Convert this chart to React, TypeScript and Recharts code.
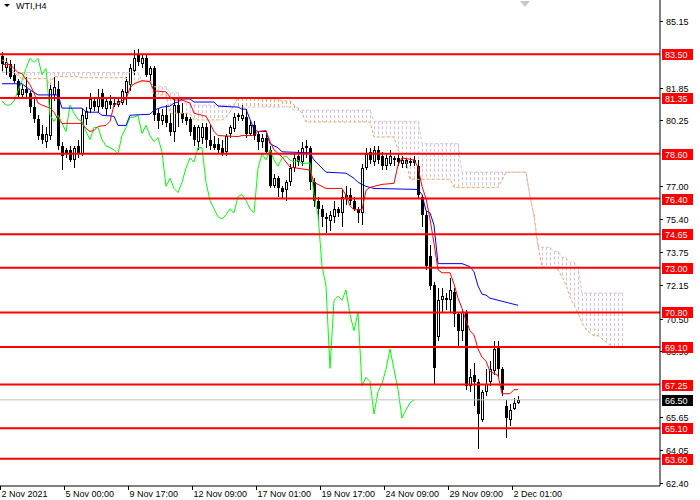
import React from 'react';
import { ComposedChart, Bar, Line, XAxis, YAxis, ReferenceLine } from 'recharts';

// H4 candles, bar 0 is the first one on screen
const opens = [
  83.4, 82.8, 83.0, 82.5, 82.2, 81.5, 81.8, 81.6, 80.9, 80.3,
  79.6, 79.2, 79.5, 81.5, 81.8, 79.0, 78.8, 78.8, 78.3, 79.0,
  78.6, 80.3, 80.8, 81.2, 80.9, 81.6, 80.8, 81.2, 81.1, 81.0,
  81.1, 81.6, 82.0, 82.7, 83.5, 83.0, 83.3, 82.5, 82.8, 80.6,
  80.2, 80.5, 80.1, 79.7, 81.0, 80.6, 80.4, 80.3, 79.9, 79.2,
  79.4, 79.9, 79.3, 79.1, 79.1, 78.9, 78.7, 79.6, 79.8, 80.5,
  80.3, 80.4, 79.6, 80.0, 79.6, 79.2, 79.4, 78.8, 77.0, 77.4,
  76.9, 76.8, 77.2, 77.9, 78.5, 78.2, 79.0, 78.9, 77.2, 76.3,
  75.9, 75.5, 75.3, 75.5, 75.9, 75.7, 76.4, 76.6, 76.3, 75.9,
  75.7, 77.9, 78.7, 78.2, 78.8, 78.5, 78.0, 78.1, 78.4, 78.4,
  78.1, 78.3, 78.25, 78.3, 78.0, 76.5, 75.6, 73.6, 72.15, 69.6,
  71.4, 71.5, 71.4, 71.8, 70.7, 69.9, 70.8, 67.2, 67.7, 67.4,
  65.5, 66.9, 67.4, 67.9, 69.1, 68.0, 66.2, 65.5, 66.05, 66.35,
];
const highs = [
  83.6, 83.3, 83.2, 83.0, 82.3, 82.0, 82.4, 81.7, 81.4, 80.5,
  80.0, 79.9, 82.0, 82.4, 82.2, 79.2, 78.9, 79.0, 79.0, 79.3,
  80.8, 80.9, 81.6, 81.4, 81.8, 81.8, 81.3, 81.5, 81.3, 81.4,
  81.8, 82.4, 83.0, 83.7, 83.75, 83.5, 83.5, 82.9, 82.9, 80.8,
  80.8, 81.0, 80.6, 81.3, 81.3, 81.1, 80.6, 80.4, 80.0, 80.0,
  80.1, 80.1, 80.0, 79.5, 79.4, 79.3, 79.6, 80.0, 80.6, 80.6,
  81.0, 80.8, 80.2, 80.2, 79.7, 79.6, 79.6, 79.0, 77.6, 77.5,
  77.0, 77.3, 78.1, 78.6, 78.8, 79.2, 79.3, 79.0, 77.4, 76.5,
  76.1, 75.7, 75.8, 76.3, 76.0, 76.8, 77.0, 76.9, 76.5, 76.0,
  78.1, 78.9, 78.9, 79.0, 79.0, 78.7, 78.6, 78.8, 78.5, 78.6,
  78.5, 78.4, 78.4, 78.5, 78.3, 76.6, 75.8, 74.1, 72.3, 72.0,
  72.0, 71.75, 72.5, 72.0, 70.8, 70.9, 70.9, 68.0, 68.3, 67.5,
  67.0, 68.0, 68.4, 69.4, 69.4, 68.1, 66.5, 66.3, 66.6, 66.7,
];
const lows = [
  82.7, 82.5, 82.3, 82.1, 81.4, 81.3, 81.4, 80.6, 80.1, 79.3,
  79.1, 78.9, 79.3, 81.2, 78.8, 77.8, 78.4, 78.2, 77.9, 78.4,
  78.5, 80.0, 80.6, 80.7, 80.6, 80.8, 80.5, 80.8, 80.9, 80.9,
  81.0, 81.0, 81.7, 82.5, 82.9, 82.8, 82.4, 82.2, 80.2, 79.8,
  80.0, 79.9, 79.5, 79.2, 79.9, 80.1, 80.0, 79.5, 79.0, 78.8,
  79.1, 78.9, 78.8, 78.8, 78.6, 78.5, 78.5, 79.4, 79.7, 80.2,
  80.2, 79.4, 79.5, 79.3, 78.8, 78.9, 78.6, 76.9, 76.9, 76.5,
  76.4, 76.3, 77.0, 77.7, 78.0, 78.0, 78.4, 76.8, 76.0, 75.3,
  75.0, 74.7, 74.8, 75.2, 75.5, 75.0, 76.1, 76.1, 75.8, 75.2,
  75.1, 77.8, 78.1, 78.0, 78.1, 77.8, 77.8, 78.0, 78.0, 78.0,
  77.9, 77.9, 78.0, 78.0, 76.4, 75.0, 72.9, 71.9, 67.3, 69.4,
  70.8, 70.9, 70.75, 70.1, 69.1, 69.4, 67.0, 66.9, 66.2, 64.1,
  65.4, 66.7, 67.2, 67.7, 67.6, 66.7, 64.6, 65.2, 66.0, 66.3,
];
const closes = [
  83.0, 83.1, 82.4, 82.2, 81.5, 81.8, 81.6, 80.9, 80.3, 79.5,
  79.3, 79.6, 81.8, 81.9, 79.0, 78.5, 78.6, 78.3, 78.9, 78.6,
  80.5, 80.7, 81.3, 80.9, 81.4, 80.9, 81.2, 81.0, 81.0, 81.2,
  81.7, 82.2, 82.8, 83.3, 83.1, 83.3, 82.5, 82.8, 80.5, 80.2,
  80.5, 80.1, 79.7, 81.0, 80.6, 80.3, 80.2, 79.7, 79.3, 79.9,
  79.9, 79.3, 79.0, 78.9, 78.8, 78.6, 79.5, 79.9, 80.4, 80.4,
  80.5, 79.6, 80.0, 79.5, 79.2, 79.4, 78.7, 77.0, 77.4, 76.9,
  76.7, 77.2, 77.9, 78.4, 78.2, 78.9, 78.9, 77.2, 76.3, 75.9,
  75.5, 75.4, 75.6, 75.9, 75.7, 76.5, 76.6, 76.3, 75.9, 75.7,
  77.9, 78.6, 78.3, 78.8, 78.3, 78.0, 78.4, 78.5, 78.3, 78.2,
  78.3, 78.1, 78.15, 78.15, 76.6, 75.6, 73.1, 72.1, 68.05, 71.4,
  71.6, 71.4, 71.9, 70.7, 69.9, 70.8, 67.2, 67.6, 67.4, 65.8,
  66.9, 67.3, 68.0, 69.0, 68.0, 67.0, 65.6, 66.0, 66.35, 66.5,
];

// Ichimoku lines, read at the bars where they turn
const tenkanAt = [
  0, 2, 4, 5, 7, 8, 9, 10, 12, 13, 14, 15, 20, 21, 22, 23, 24, 26, 27, 28,
  29, 31, 32, 33, 35, 37, 38, 41, 42, 43, 45, 47, 48, 51, 52, 53, 54, 59, 60, 63,
  64, 66, 67, 68, 70, 72, 77, 78, 81, 85, 86, 87, 88, 90, 91, 92, 95, 98, 99, 100,
  103, 104, 105, 106, 107, 108, 109, 110, 112, 113, 114, 115, 116, 117, 118, 119, 120, 121, 122, 124,
  125, 127, 128, 129,
];
const tenkanVal = [
  83.0, 83.0, 82.6, 82.55, 82.0, 81.6, 81.1, 81.0, 80.85, 80.65, 80.3, 80.1, 80.1, 79.85, 79.7, 79.75, 79.95, 80.0, 80.2, 81.0,
  81.1, 81.3, 81.85, 82.05, 82.2, 82.15, 81.7, 81.65, 81.4, 81.25, 81.25, 81.1, 80.6, 80.45, 80.1, 79.7, 79.5, 79.45, 79.5, 79.5,
  79.7, 79.75, 79.2, 78.8, 78.45, 77.95, 77.8, 77.2, 76.9, 76.9, 76.55, 76.05, 75.85, 75.85, 76.8, 76.95, 77.1, 77.15, 78.05, 78.4,
  78.3, 77.95, 77.0, 76.4, 75.4, 74.2, 72.9, 72.75, 72.75, 72.2, 71.5, 71.0, 70.4, 69.9, 69.7, 69.0, 68.6, 68.4, 67.9, 67.7,
  66.8, 66.8, 67.0, 67.0,
];
const kijunAt = [
  0, 5, 7, 9, 14, 15, 20, 21, 24, 25, 28, 29, 31, 32, 37, 38, 40, 42, 43, 44,
  45, 47, 48, 53, 54, 59, 60, 61, 62, 63, 64, 66, 67, 69, 70, 77, 78, 79, 81, 86,
  88, 89, 91, 93, 104, 105, 106, 107, 108, 109, 115, 117, 118, 119, 120, 121, 122, 124, 126, 129,
];
const kijunVal = [
  82.05, 82.05, 81.75, 81.5, 81.5, 80.85, 80.85, 80.65, 80.65, 80.5, 80.45, 80.0, 80.0, 80.5, 80.55, 80.75, 80.9, 80.95, 81.1, 81.15,
  81.3, 81.3, 81.15, 81.15, 80.95, 80.9, 80.8, 80.8, 80.3, 79.8, 79.7, 79.7, 79.1, 78.9, 78.7, 78.65, 78.3, 78.1, 77.7, 77.65,
  77.4, 77.2, 77.0, 76.9, 76.85, 76.6, 75.8, 75.7, 75.1, 73.2, 73.2, 73.05, 72.8, 72.1, 71.7, 71.65, 71.5, 71.4, 71.3, 71.15,
];

// Senkou spans as drawn (already 26 bars ahead), one value per bar
const spanA = [
  83.2, 83.2, 82.9, 82.6, 82.45, 82.3, 82.3, 82.3, 82.3, 82.3, 82.3, 82.3, 82.0,
  82.4, 82.4, 82.4, 82.4, 82.4, 82.4, 82.4, 82.35, 82.35, 82.35, 82.35, 82.35, 82.35,
  82.35, 82.35, 82.35, 82.35, 82.35, 82.35, 82.0, 82.0, 82.15, 82.15, 82.15, 82.15, 81.5,
  81.5, 81.5, 81.5, 80.6, 80.6, 80.6, 80.6, 80.6, 80.6, 80.27, 80.27, 80.27, 80.27, 80.27,
  80.27, 80.27, 80.27, 80.4, 80.66, 81.0, 81.35, 81.35, 81.35, 81.35, 81.35, 81.35, 81.3,
  81.3, 81.3, 81.3, 81.3, 81.2, 81.2, 81.2, 81.0, 80.85, 80.6, 80.17, 80.17, 80.17, 80.17,
  80.17, 80.17, 80.17, 80.17, 80.17, 80.17, 80.17, 80.17, 80.17, 80.17, 80.17, 80.17, 80.17,
  79.43, 79.43, 79.43, 79.43, 79.43, 79.43, 78.8, 78.5, 78.3, 77.35, 77.35, 77.35, 77.35,
  77.35, 77.35, 77.35, 77.35, 77.35, 77.35, 77.35, 76.95, 76.95, 76.95, 76.95, 76.95, 76.95,
  76.95, 76.95, 76.95, 76.95, 76.95, 76.95, 77.3, 77.7, 77.7, 77.7, 77.7, 77.7, 77.7,
  76.5, 75.6, 74.1, 73.05, 73.0, 73.0, 73.0, 72.9, 72.55, 72.15, 71.55, 71.15, 70.75,
  70.3, 69.95, 69.8, 69.65, 69.65, 69.5, 69.35, 69.2, 69.1, 69.1, 69.1,
];
const spanB = [
  82.6, 82.6, 82.6, 82.6, 82.6, 82.6, 82.6, 82.6, 82.6, 82.6, 82.6, 82.6, 82.6,
  82.6, 82.6, 82.6, 82.6, 82.6, 82.6, 82.6, 82.6, 82.6, 82.6, 82.6, 82.6, 82.6,
  82.6, 82.6, 82.6, 82.6, 82.6, 82.6, 82.6, 82.6, 82.6, 82.2, 82.2, 82.2, 81.9,
  81.9, 81.9, 81.9, 81.6, 81.6, 81.6, 81.1, 81.1, 81.0, 81.0, 81.0, 81.0, 81.0,
  81.0, 81.0, 81.0, 81.0, 81.0, 81.0, 81.0, 80.9, 80.9, 80.9, 80.9, 80.9, 80.9,
  80.9, 80.9, 80.9, 80.9, 80.9, 80.9, 80.9, 80.9, 80.75, 80.75, 80.75, 80.75, 80.75,
  80.75, 80.75, 80.75, 80.75, 80.75, 80.75, 80.75, 80.75, 80.75, 80.75, 80.75, 80.75, 80.75,
  80.75, 80.75, 80.2, 80.2, 80.2, 80.2, 80.2, 80.2, 80.2, 80.2, 80.2, 80.2, 80.2,
  80.2, 79.1, 79.1, 79.1, 79.1, 79.1, 79.1, 79.1, 79.1, 79.1, 79.1, 77.7, 77.7,
  77.7, 77.7, 77.7, 77.7, 77.7, 77.7, 77.7, 77.7, 77.7, 77.7, 77.7, 77.7, 77.7,
  77.7, 77.7, 76.5, 75.5, 74.0, 74.0, 74.0, 74.0, 73.8, 73.8, 73.5, 73.5, 73.25,
  73.25, 73.05, 71.75, 71.75, 71.75, 71.75, 71.75, 71.75, 71.75, 71.75, 71.75, 71.75, 71.75,
];

const levels = [83.5, 81.35, 78.6, 76.4, 74.65, 73.0, 70.8, 69.1, 67.25, 65.1, 63.6];
const lastPrice = 66.5;
const priceTicks = [85.15, 83.5, 81.85, 80.25, 78.6, 77.0, 75.4, 73.75, 72.15, 70.5, 68.9, 67.25, 65.65, 64.05, 62.4];
const timeBars = [0, 16, 32, 48, 64, 80, 96, 112, 128];
const timeLabels = [
  '2 Nov 2021', '5 Nov 00:00', '9 Nov 17:00', '12 Nov 09:00', '17 Nov 01:00',
  '19 Nov 17:00', '24 Nov 09:00', '29 Nov 09:00', '2 Dec 01:00',
];

const CHIKOU_SHIFT = 26;
const TOTAL = 165; // bars on screen incl. the empty shift on the right
const FONT = '"Liberation Sans", Arial, sans-serif';
const SPAN_A_COLOR = '#f4a460';
const SPAN_B_COLOR = '#d8bfd8';

const rows = Array.from({ length: TOTAL }, (_, i) => {
  const hasBar = i < closes.length;
  const hasCloud = i < spanA.length;
  const t = tenkanAt.indexOf(i);
  const k = kijunAt.indexOf(i);
  return {
    i,
    o: hasBar ? opens[i] : null,
    h: hasBar ? highs[i] : null,
    l: hasBar ? lows[i] : null,
    c: hasBar ? closes[i] : null,
    hl: hasBar ? [lows[i], highs[i]] : null,
    chikou: i + CHIKOU_SHIFT < closes.length ? closes[i + CHIKOU_SHIFT] : null,
    tenkan: t >= 0 ? tenkanVal[t] : null,
    kijun: k >= 0 ? kijunVal[k] : null,
    spanA: hasCloud ? spanA[i] : null,
    spanB: hasCloud ? spanB[i] : null,
    cloud: hasCloud ? [Math.min(spanA[i], spanB[i]), Math.max(spanA[i], spanB[i])] : null,
  };
});

const axisTicks = [
  ...priceTicks.filter((v) => !levels.includes(v)),
  ...levels,
  lastPrice,
];

function Candle(props: any) {
  const { x, y, width, height, payload } = props;
  if (!payload || payload.o == null || !(height > 0)) return null;
  const { o, h, l, c } = payload;
  const k = height / (h - l);
  const py = (v: number) => Math.round(y + (h - v) * k);
  const cx = Math.floor(x + width / 2) + 0.5;
  const top = py(Math.max(o, c));
  const bottom = py(Math.min(o, c));
  const bull = c >= o;
  let body;
  if (bottom - top < 2) {
    body = <line x1={cx - 1.5} x2={cx + 1.5} y1={top + 0.5} y2={top + 0.5} stroke="#000" />;
  } else if (bull) {
    body = <rect x={cx - 1} y={top + 0.5} width={2} height={bottom - top - 1} fill="#fff" stroke="#000" />;
  } else {
    body = <rect x={cx - 1.5} y={top} width={3} height={bottom - top} fill="#000" />;
  }
  return (
    <g>
      <line x1={cx} x2={cx} y1={Math.round(y)} y2={Math.round(y + height)} stroke="#000" />
      {body}
    </g>
  );
}

function CloudHatch(props: any) {
  const { x, y, width, height, payload } = props;
  if (!payload || payload.spanA == null || !(height > 0.5)) return null;
  const cx = Math.floor(x + width / 2) + 0.5;
  const color = payload.spanA >= payload.spanB ? SPAN_A_COLOR : SPAN_B_COLOR;
  return <line x1={cx} x2={cx} y1={y} y2={y + height} stroke={color} strokeDasharray="3 2" />;
}

function TimeTick(props: any) {
  const { x, y, payload } = props;
  const idx = timeBars.indexOf(payload.value);
  if (idx < 0) return <g />;
  const left = Math.round(x - 2) + 0.5;
  return (
    <g>
      <line x1={left} x2={left} y1={y} y2={y + 4} stroke="#000" />
      <text x={left + 1} y={y + 11} fontSize={9} fontFamily={FONT} fill="#000">
        {timeLabels[idx]}
      </text>
    </g>
  );
}

function PriceTick(props: any) {
  const { x, y, payload } = props;
  const v = payload.value;
  const yy = Math.round(y);
  const label = v.toFixed(2);
  if (levels.includes(v) || v === lastPrice) {
    const bg = v === lastPrice ? '#000' : '#ff0000';
    return (
      <g>
        <rect x={x + 2} y={yy - 5} width={31} height={11} fill={bg} />
        <text x={x + 5} y={yy + 3.5} fontSize={9} fontFamily={FONT} fill="#fff">
          {label}
        </text>
      </g>
    );
  }
  return (
    <g>
      <line x1={x} x2={x + 3} y1={yy + 0.5} y2={yy + 0.5} stroke="#000" />
      <text x={x + 6} y={yy + 3.5} fontSize={9} fontFamily={FONT} fill="#000">
        {label}
      </text>
    </g>
  );
}

export default function App() {
  return (
    <div style={{ position: 'absolute', left: 0, top: 0, width: 700, height: 500, background: '#fff' }}>
      <ComposedChart width={700} height={500} data={rows} margin={{ top: 0, right: 0, bottom: 0, left: 0 }}>
        <XAxis
          dataKey="i"
          height={14}
          interval={0}
          tickSize={0}
          tickMargin={0}
          tick={<TimeTick />}
          axisLine={{ stroke: '#000' }}
          tickLine={false}
        />
        <XAxis xAxisId="cloud" dataKey="i" hide />
        <YAxis
          orientation="right"
          type="number"
          width={40}
          domain={[62.26, 86.17]}
          allowDataOverflow
          ticks={axisTicks}
          interval={0}
          tickSize={0}
          tickMargin={0}
          tick={<PriceTick />}
          axisLine={{ stroke: '#000' }}
          tickLine={false}
        />
        <Bar xAxisId="cloud" dataKey="cloud" barSize={1} shape={<CloudHatch />} isAnimationActive={false} />
        <Line dataKey="spanA" stroke={SPAN_A_COLOR} strokeDasharray="3 2" dot={false} activeDot={false} isAnimationActive={false} />
        <Line dataKey="spanB" stroke={SPAN_B_COLOR} strokeDasharray="3 2" dot={false} activeDot={false} isAnimationActive={false} />
        <Bar dataKey="hl" barSize={3} shape={<Candle />} isAnimationActive={false} />
        <Line dataKey="chikou" stroke="#00ff00" dot={false} activeDot={false} isAnimationActive={false} />
        <Line dataKey="kijun" stroke="#0000ff" dot={false} activeDot={false} connectNulls isAnimationActive={false} />
        <Line dataKey="tenkan" stroke="#ff0000" dot={false} activeDot={false} connectNulls isAnimationActive={false} />
        <ReferenceLine y={lastPrice} stroke="#c0c0c0" />
        {levels.map((v) => (
          <ReferenceLine key={v} y={v} stroke="#ff0000" strokeWidth={2} />
        ))}
      </ComposedChart>
      <div style={{ position: 'absolute', left: 4, top: 1, fontFamily: FONT, fontSize: 9, color: '#000', display: 'flex', alignItems: 'center' }}>
        <svg width={8} height={8} style={{ marginRight: 4 }}>
          <polygon points="0,2 6,2 3,5" fill="#000" />
        </svg>
        WTI,H4
      </div>
      <svg width={12} height={10} style={{ position: 'absolute', left: 519, top: 0 }}>
        <polygon points="1,1 11,1 6,7" fill="#c8c8c8" />
      </svg>
    </div>
  );
}
